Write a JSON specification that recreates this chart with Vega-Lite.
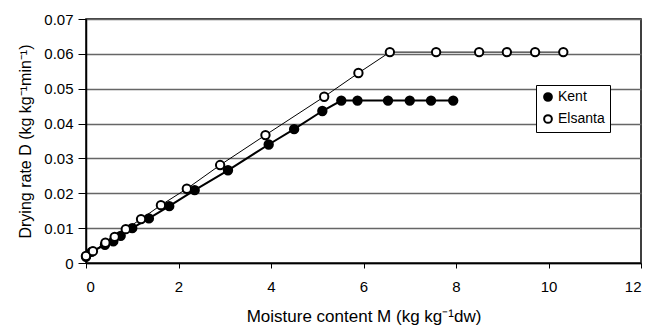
{
  "$schema": "https://vega.github.io/schema/vega-lite/v6.json",
  "autosize": {"type": "none"},
  "padding": {"left": 86, "top": 19, "right": 4, "bottom": 64},
  "width": 555,
  "height": 244,
  "background": "white",
  "config": {
    "font": "Liberation Sans",
    "view": {"stroke": "black", "strokeWidth": 1.5},
    "axis": {"labelFont": "Liberation Sans", "titleFont": "Liberation Sans", "labelColor": "black", "titleColor": "black", "titleFontWeight": "normal", "domainColor": "black", "tickColor": "black"}
  },
  "data": {"values": [
    {"M": 0, "D": 0.0018, "variety": "Kent"},
    {"M": 0.12, "D": 0.0032, "variety": "Kent"},
    {"M": 0.41, "D": 0.0052, "variety": "Kent"},
    {"M": 0.59, "D": 0.0062, "variety": "Kent"},
    {"M": 0.75, "D": 0.0078, "variety": "Kent"},
    {"M": 1.0, "D": 0.0100, "variety": "Kent"},
    {"M": 1.36, "D": 0.0128, "variety": "Kent"},
    {"M": 1.8, "D": 0.0163, "variety": "Kent"},
    {"M": 2.35, "D": 0.0209, "variety": "Kent"},
    {"M": 3.07, "D": 0.0266, "variety": "Kent"},
    {"M": 3.95, "D": 0.0340, "variety": "Kent"},
    {"M": 4.5, "D": 0.0384, "variety": "Kent"},
    {"M": 5.11, "D": 0.0436, "variety": "Kent"},
    {"M": 5.52, "D": 0.0466, "variety": "Kent"},
    {"M": 5.87, "D": 0.0466, "variety": "Kent"},
    {"M": 6.53, "D": 0.0466, "variety": "Kent"},
    {"M": 7.0, "D": 0.0466, "variety": "Kent"},
    {"M": 7.46, "D": 0.0466, "variety": "Kent"},
    {"M": 7.94, "D": 0.0466, "variety": "Kent"},
    {"M": 0, "D": 0.0020, "variety": "Elsanta"},
    {"M": 0.15, "D": 0.0034, "variety": "Elsanta"},
    {"M": 0.42, "D": 0.0058, "variety": "Elsanta"},
    {"M": 0.62, "D": 0.0075, "variety": "Elsanta"},
    {"M": 0.86, "D": 0.0097, "variety": "Elsanta"},
    {"M": 1.19, "D": 0.0126, "variety": "Elsanta"},
    {"M": 1.62, "D": 0.0166, "variety": "Elsanta"},
    {"M": 2.18, "D": 0.0213, "variety": "Elsanta"},
    {"M": 2.9, "D": 0.0281, "variety": "Elsanta"},
    {"M": 3.88, "D": 0.0367, "variety": "Elsanta"},
    {"M": 5.15, "D": 0.0477, "variety": "Elsanta"},
    {"M": 5.89, "D": 0.0545, "variety": "Elsanta"},
    {"M": 6.57, "D": 0.0605, "variety": "Elsanta"},
    {"M": 7.57, "D": 0.0605, "variety": "Elsanta"},
    {"M": 8.5, "D": 0.0605, "variety": "Elsanta"},
    {"M": 9.1, "D": 0.0605, "variety": "Elsanta"},
    {"M": 9.71, "D": 0.0605, "variety": "Elsanta"},
    {"M": 10.32, "D": 0.0605, "variety": "Elsanta"}
  ]},
  "encoding": {
    "x": {"field": "M", "type": "quantitative",
      "scale": {"domain": [0, 12], "nice": false, "zero": false},
      "axis": {"values": [0, 2, 4, 6, 8, 10, 12], "grid": false, "title": "Moisture content M (kg kg⁻¹dw)", "labelFontSize": 15, "titleFontSize": 17, "tickSize": 5, "labelPadding": 11, "titlePadding": 14, "domainWidth": 1.5}},
    "y": {"field": "D", "type": "quantitative",
      "scale": {"domain": [0, 0.07], "nice": false},
      "axis": {"values": [0, 0.01, 0.02, 0.03, 0.04, 0.05, 0.06, 0.07], "format": ".2~f", "grid": true, "gridColor": "#666666", "gridWidth": 1.5, "title": "Drying rate D (kg kg⁻¹min⁻¹)", "labelFontSize": 15, "titleFontSize": 16, "tickSize": 8, "labelPadding": 5, "titlePadding": 10, "domainWidth": 1.5}}
  },
  "layer": [
    {
      "transform": [{"filter": "datum.variety === 'Kent'"}],
      "mark": {"type": "line", "color": "black", "strokeWidth": 2},
      "encoding": {}
    },
    {
      "transform": [{"filter": "datum.variety === 'Elsanta'"}],
      "mark": {"type": "line", "color": "black", "strokeWidth": 1},
      "encoding": {}
    },
    {
      "mark": {"type": "point", "shape": "circle", "stroke": "black", "strokeWidth": 2, "opacity": 1, "filled": true, "fillOpacity": 1},
      "encoding": {
        "fill": {"field": "variety", "type": "nominal",
          "scale": {"domain": ["Kent", "Elsanta"], "range": ["black", "white"]},
          "legend": {"title": null, "orient": "none", "legendX": 450, "legendY": 66, "strokeColor": "black", "fillColor": "white", "padding": 5, "labelFontSize": 14, "labelFont": "Liberation Sans", "labelColor": "black", "symbolType": "circle", "symbolStrokeColor": "black", "symbolStrokeWidth": 2, "symbolSize": 60, "rowPadding": 6, "labelOffset": 3}},
        "size": {"value": 70}
      }
    }
  ]
}
